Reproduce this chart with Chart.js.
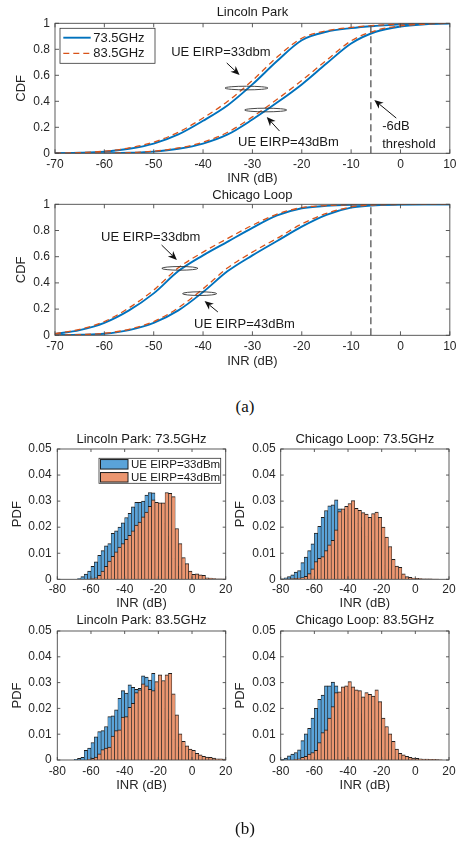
<!DOCTYPE html>
<html>
<head>
<meta charset="utf-8">
<script src="https://cdn.jsdelivr.net/npm/chart.js@4.4.1/dist/chart.umd.min.js"></script>
<style>
html,body{margin:0;padding:0;background:#fff;}
body{width:461px;height:846px;position:relative;overflow:hidden;}
canvas{position:absolute;display:block;}
.cap{position:absolute;font-family:'Liberation Serif','Times New Roman',serif;font-size:17px;color:#111;line-height:1;transform:translate(-50%,-50%);white-space:nowrap;}
</style>
</head>
<body>
<canvas id="cdf1" width="461" height="190" style="left:0;top:0"></canvas>
<canvas id="cdf2" width="461" height="190" style="left:0;top:182px"></canvas>
<div class="cap" style="left:245px;top:406px">(a)</div>
<canvas id="h1" width="240" height="186" style="left:0;top:428px"></canvas>
<canvas id="h2" width="231" height="186" style="left:230px;top:428px"></canvas>
<canvas id="h3" width="240" height="186" style="left:0;top:610px"></canvas>
<canvas id="h4" width="231" height="186" style="left:230px;top:610px"></canvas>
<div class="cap" style="left:245px;top:828px">(b)</div>
<script>
// ---------------- DATA ----------------
// CDF panels (a)
const cdfX = [-70,-65,-60,-55,-50,-45,-40,-35,-30,-25,-20,-15,-10,-5,0,5,10];
const cdfXTicks = [-70,-60,-50,-40,-30,-20,-10,0,10];
const cdfYTicks = [0,0.2,0.4,0.6,0.8,1];
const thresholdDb = -6;
// Lincoln Park
const lp735_33 = [0,0.004,0.013,0.035,0.075,0.145,0.25,0.37,0.53,0.71,0.87,0.935,0.963,0.98,0.992,0.998,1];
const lp835_33 = [0,0.005,0.016,0.041,0.086,0.162,0.272,0.40,0.56,0.74,0.885,0.942,0.968,0.984,0.994,0.998,1];
const lp735_43 = [0,0,0.001,0.004,0.013,0.035,0.075,0.145,0.26,0.39,0.53,0.69,0.845,0.935,0.975,0.992,1];
const lp835_43 = [0,0,0.001,0.005,0.016,0.041,0.086,0.162,0.28,0.415,0.56,0.715,0.865,0.945,0.98,0.994,1];
// Chicago Loop
const cl735_33 = [0.01,0.04,0.095,0.19,0.32,0.49,0.61,0.715,0.82,0.915,0.97,0.988,0.996,0.999,1,1,1];
const cl835_33 = [0.012,0.045,0.105,0.21,0.345,0.515,0.635,0.74,0.84,0.925,0.975,0.99,0.997,0.999,1,1,1];
const cl735_43 = [0.001,0.004,0.012,0.04,0.095,0.19,0.33,0.49,0.61,0.72,0.83,0.92,0.975,0.993,0.999,1,1];
const cl835_43 = [0.001,0.005,0.015,0.046,0.105,0.21,0.355,0.515,0.635,0.74,0.85,0.93,0.98,0.995,0.999,1,1];

// PDF panels (b): bin centres (dB)
const histBins = [-79,-77,-75,-73,-71,-69,-67,-65,-63,-61,-59,-57,-55,-53,-51,-49,-47,-45,-43,-41,
  -39,-37,-35,-33,-31,-29,-27,-25,-23,-21,-19,-17,-15,-13,-11,-9,-7,-5,-3,-1,1,3,5,7,9,11,13,15,17,19];
const pdfXTicks = [-80,-60,-40,-20,0,20];
const pdfYTicks = [0,0.01,0.02,0.03,0.04,0.05];
// Lincoln Park 73.5GHz
const lp735pdf_33 = [0,0,0,0,0,0,0.0003,0.0010,0.0020,0.0032,0.0050,0.0067,0.0092,0.0110,0.0128,0.0137,0.0176,0.0186,0.0200,0.0217,
  0.0237,0.0253,0.0278,0.0295,0.0295,0.0300,0.0323,0.0333,0.0332,0.0285,0.0255,0.0215,0.0165,0.0120,0.0080,0.0050,0.0030,0.0020,0.0012,0.0008,
  0.0005,0.0003,0.0002,0.0001,0.0001,0,0,0,0,0];
const lp735pdf_43 = [0,0,0,0,0,0,0,0,0,0.0001,0.0003,0.0006,0.0015,0.0032,0.0050,0.0070,0.0088,0.0105,0.0124,0.0137,
  0.0153,0.0169,0.0186,0.0208,0.0220,0.0240,0.0258,0.0280,0.0305,0.0295,0.0293,0.0293,0.0333,0.0330,0.0317,0.0195,0.0137,0.0083,0.0060,0.0032,
  0.0019,0.0021,0.0017,0.0015,0.0006,0.0005,0.0003,0.0002,0.0002,0.0001];
// Chicago Loop 73.5GHz
const cl735pdf_33 = [0.0002,0.0006,0.0010,0.0017,0.0028,0.0033,0.0064,0.0085,0.0110,0.0136,0.0177,0.0203,0.0238,0.0264,0.0282,0.0286,0.0305,0.0270,0.0255,0.0245,
  0.0235,0.0225,0.0215,0.0200,0.0185,0.0165,0.0145,0.0125,0.0100,0.0075,0.0055,0.0040,0.0028,0.0018,0.0010,0.0006,0.0003,0.0002,0.0001,0,
  0,0,0,0,0,0,0,0,0,0];
const cl735pdf_43 = [0,0.0001,0.0002,0.0003,0.0004,0.0005,0.0007,0.0011,0.0022,0.0040,0.0068,0.0080,0.0087,0.0110,0.0132,0.0150,0.0190,0.0260,0.0270,0.0280,
  0.0291,0.0302,0.0272,0.0265,0.0256,0.0250,0.0238,0.0252,0.0258,0.0238,0.0200,0.0162,0.0126,0.0077,0.0051,0.0046,0.0021,0.0010,0.0008,0.0005,
  0.0004,0.0003,0.0002,0.0002,0.0002,0.0001,0.0001,0,0,0];
// Lincoln Park 83.5GHz
const lp835pdf_33 = [0,0,0,0,0,0.0003,0.0006,0.0010,0.0037,0.0046,0.0068,0.0090,0.0110,0.0114,0.0130,0.0168,0.0171,0.0194,0.0239,0.0269,
  0.0259,0.0291,0.0282,0.0274,0.0278,0.0326,0.0321,0.0310,0.0336,0.0280,0.0245,0.0200,0.0160,0.0120,0.0080,0.0050,0.0030,0.0020,0.0012,0.0008,
  0.0005,0.0003,0.0002,0.0001,0,0,0,0,0,0];
const lp835pdf_43 = [0,0,0,0,0,0,0,0,0,0.0003,0.0006,0.0011,0.0024,0.0040,0.0046,0.0050,0.0093,0.0114,0.0117,0.0166,
  0.0168,0.0204,0.0220,0.0261,0.0272,0.0295,0.0287,0.0274,0.0269,0.0304,0.0330,0.0308,0.0330,0.0336,0.0256,0.0175,0.0101,0.0072,0.0055,0.0042,
  0.0037,0.0026,0.0020,0.0014,0.0011,0.0010,0.0007,0.0005,0.0005,0.0004];
// Chicago Loop 83.5GHz
const cl835pdf_33 = [0.0003,0.0007,0.0016,0.0023,0.0029,0.0039,0.0075,0.0101,0.0123,0.0162,0.0200,0.0235,0.0252,0.0287,0.0287,0.0302,0.0287,0.0262,0.0250,0.0240,
  0.0230,0.0220,0.0200,0.0180,0.0160,0.0140,0.0120,0.0100,0.0080,0.0060,0.0040,0.0030,0.0020,0.0013,0.0008,0.0005,0.0003,0.0002,0,0,
  0,0,0,0,0,0,0,0,0,0];
const cl835pdf_43 = [0,0,0,0,0.0003,0.0005,0.0010,0.0014,0.0023,0.0029,0.0037,0.0068,0.0106,0.0117,0.0162,0.0207,0.0261,0.0264,0.0284,0.0287,
  0.0304,0.0284,0.0272,0.0269,0.0245,0.0261,0.0255,0.0248,0.0272,0.0226,0.0162,0.0130,0.0101,0.0072,0.0042,0.0026,0.0020,0.0014,0.0010,0.0007,
  0.0006,0.0005,0.0004,0.0004,0.0003,0.0003,0.0002,0.0001,0,0];

// ---------------- STYLE / HELPERS ----------------
const FONT = "'Liberation Sans', Arial, Helvetica, sans-serif";
Chart.defaults.font.family = FONT;
Chart.defaults.font.size = 12;
Chart.defaults.color = '#262626';
const BLUE = '#0072BD', ORANGE = '#D95319';
const BLUE_FILL = '#5AA3D9', ORANGE_FILL = '#EB9670', EDGE = '#1e1e1e';
const pts = (xs, ys) => xs.map((x, i) => ({x: x, y: ys[i]}));
const fmt = v => String(Math.round(v * 10000) / 10000);

const DECOR = {};
const decor = {
  id: 'decor',
  afterDraw(chart) {
    const o = DECOR[chart.canvas.id]; if (!o) return;
    const ctx = chart.ctx, a = chart.chartArea, sx = chart.scales.x, sy = chart.scales.y;
    const X = v => sx.getPixelForValue(v), Y = v => sy.getPixelForValue(v);
    ctx.save();
    if (o.vline != null) {
      ctx.beginPath(); ctx.setLineDash([7, 4]); ctx.strokeStyle = '#555'; ctx.lineWidth = 1.3;
      ctx.moveTo(X(o.vline), a.bottom); ctx.lineTo(X(o.vline), a.top); ctx.stroke(); ctx.setLineDash([]);
    }
    // axes box
    ctx.strokeStyle = '#4a4a4a'; ctx.lineWidth = 0.9;
    ctx.strokeRect(a.left, a.top, a.right - a.left, a.bottom - a.top);
    // inward ticks
    const tl = o.tickLen;
    ctx.beginPath();
    sx.ticks.forEach(t => { const p = X(t.value); ctx.moveTo(p, a.bottom); ctx.lineTo(p, a.bottom - tl); ctx.moveTo(p, a.top); ctx.lineTo(p, a.top + tl); });
    sy.ticks.forEach(t => { const p = Y(t.value); ctx.moveTo(a.left, p); ctx.lineTo(a.left + tl, p); ctx.moveTo(a.right, p); ctx.lineTo(a.right - tl, p); });
    ctx.stroke();
    // title
    ctx.fillStyle = '#1a1a1a'; ctx.font = '13px ' + FONT; ctx.textAlign = 'center'; ctx.textBaseline = 'middle';
    ctx.fillText(o.title, (a.left + a.right) / 2, a.top - o.titleGap);
    // ellipses
    (o.ellipses || []).forEach(e => {
      const rx = Math.abs(X(e.x + e.w / 2) - X(e.x)), ry = Math.abs(Y(e.y + e.h / 2) - Y(e.y));
      ctx.beginPath(); ctx.strokeStyle = '#333'; ctx.lineWidth = 0.9;
      ctx.ellipse(X(e.x), Y(e.y), rx, ry, 0, 0, Math.PI * 2); ctx.stroke();
    });
    // arrows
    (o.arrows || []).forEach(r => {
      const x1 = X(r.from[0]), y1 = Y(r.from[1]), x2 = X(r.to[0]), y2 = Y(r.to[1]);
      const ang = Math.atan2(y2 - y1, x2 - x1), L = 9, W = 3.8, c = Math.cos(ang), s = Math.sin(ang);
      ctx.strokeStyle = '#111'; ctx.lineWidth = 1;
      ctx.beginPath(); ctx.moveTo(x1, y1); ctx.lineTo(x2 - L * 0.7 * c, y2 - L * 0.7 * s); ctx.stroke();
      ctx.fillStyle = '#111'; ctx.beginPath(); ctx.moveTo(x2, y2);
      ctx.lineTo(x2 - L * c + W * s, y2 - L * s - W * c);
      ctx.lineTo(x2 - L * 0.7 * c, y2 - L * 0.7 * s);
      ctx.lineTo(x2 - L * c - W * s, y2 - L * s + W * c);
      ctx.closePath(); ctx.fill();
    });
    // texts
    (o.texts || []).forEach(t => {
      ctx.fillStyle = '#1a1a1a'; ctx.font = '13px ' + FONT; ctx.textAlign = t.align || 'center'; ctx.textBaseline = 'middle';
      ctx.fillText(t.t, X(t.x), Y(t.y));
    });
    // legend
    if (o.legend) {
      const Lg = o.legend;
      const bx = Lg.fromRight != null ? a.right - Lg.fromRight - Lg.w : a.left + Lg.dx, by = a.top + Lg.dy;
      ctx.fillStyle = '#fff'; ctx.fillRect(bx, by, Lg.w, Lg.h);
      ctx.strokeStyle = '#333'; ctx.lineWidth = 0.8; ctx.strokeRect(bx, by, Lg.w, Lg.h);
      Lg.items.forEach((di, k) => {
        const ds = chart.data.datasets[di], ry = by + Lg.rows[k];
        if (Lg.kind === 'line') {
          ctx.strokeStyle = ds.borderColor; ctx.lineWidth = ds.borderWidth; ctx.setLineDash(ds.borderDash || []);
          ctx.beginPath(); ctx.moveTo(bx + Lg.s0, ry); ctx.lineTo(bx + Lg.s1, ry); ctx.stroke(); ctx.setLineDash([]);
        } else {
          ctx.fillStyle = ds.backgroundColor; ctx.fillRect(bx + Lg.s0, ry - Lg.ph / 2, Lg.s1 - Lg.s0, Lg.ph);
          ctx.strokeStyle = EDGE; ctx.lineWidth = 1; ctx.strokeRect(bx + Lg.s0, ry - Lg.ph / 2, Lg.s1 - Lg.s0, Lg.ph);
        }
        ctx.fillStyle = '#1a1a1a'; ctx.font = Lg.fs + 'px ' + FONT; ctx.textAlign = 'left'; ctx.textBaseline = 'middle';
        ctx.fillText(ds.label, bx + Lg.tx, ry + 0.5);
      });
    }
    ctx.restore();
  }
};

function build(id, g, type, datasets, sx, sy) {
  const lh = 13 * 1.2;
  return new Chart(document.getElementById(id), {
    type: type,
    data: { datasets: datasets },
    plugins: [decor],
    options: {
      responsive: false, animation: false, devicePixelRatio: 1,
      layout: { padding: { left: 0, top: g.top, right: g.w - g.right, bottom: 0 } },
      plugins: { legend: { display: false }, tooltip: { enabled: false } },
      scales: {
        x: {
          type: 'linear', min: sx.min, max: sx.max, offset: false,
          afterBuildTicks: s => { s.ticks = sx.ticks.map(v => ({ value: v })); },
          afterFit: s => { s.height = g.h - g.bottom; },
          grid: { display: false, drawTicks: false, offset: false }, border: { display: false },
          ticks: { padding: g.xPad, maxRotation: 0, autoSkip: false, font: { size: 12 }, callback: fmt },
          title: { display: true, text: sx.title, font: { size: 13 }, padding: { top: 0, bottom: g.h - g.xTitle - lh / 2 } }
        },
        y: {
          type: 'linear', min: sy.min, max: sy.max,
          afterBuildTicks: s => { s.ticks = sy.ticks.map(v => ({ value: v })); },
          afterFit: s => { s.width = g.left; },
          grid: { display: false, drawTicks: false }, border: { display: false },
          ticks: { padding: g.yPad, font: { size: 12 }, callback: fmt },
          title: { display: true, text: sy.title, font: { size: 13 }, padding: { top: g.yTitle - lh / 2, bottom: 0 } }
        }
      }
    }
  });
}

function cdfSets(b33, b43, o33, o43) {
  const line = (lab, data, col, w, dash) => ({ label: lab, data: pts(cdfX, data), borderColor: col, borderWidth: w, borderDash: dash,
    pointRadius: 0, fill: false, cubicInterpolationMode: 'monotone' });
  return [
    line('83.5GHz', o33, ORANGE, 1.3, [6, 4]),
    line('83.5GHz', o43, ORANGE, 1.3, [6, 4]),
    line('73.5GHz', b33, BLUE, 1.9, []),
    line('73.5GHz', b43, BLUE, 1.9, [])
  ];
}
function pdfSets(v33, v43) {
  const bar = (lab, data, fill) => ({ label: lab, data: pts(histBins, data), backgroundColor: fill, borderColor: EDGE,
    borderWidth: { top: 1, left: 0.6, right: 0.6, bottom: 0 }, grouped: false, barPercentage: 1, categoryPercentage: 1 });
  return [ bar('UE EIRP=43dBm', v43, ORANGE_FILL), bar('UE EIRP=33dBm', v33, BLUE_FILL) ];
}

const cdfXs = { min: -70, max: 10, ticks: cdfXTicks, title: 'INR (dB)' };
const cdfYs = { min: 0, max: 1, ticks: cdfYTicks, title: 'CDF' };
const pdfXs = { min: -80, max: 20, ticks: pdfXTicks, title: 'INR (dB)' };
const pdfYs = { min: 0, max: 0.05, ticks: pdfYTicks, title: 'PDF' };

// ---------------- PANELS ----------------
DECOR.cdf1 = {
  title: 'Lincoln Park', titleGap: 10.8, tickLen: 4, vline: thresholdDb,
  legend: { kind: 'line', items: [2, 0], dx: 5, dy: 5, w: 95, h: 35, rows: [9.4, 25], s0: 3.3, s1: 30.7, tx: 33.3, fs: 13 },
  ellipses: [{ x: -31.2, y: 0.502, w: 8.7, h: 0.028 }, { x: -27.3, y: 0.333, w: 8.5, h: 0.028 }],
  arrows: [{ from: [-35.2, 0.695], to: [-32.6, 0.602] }, { from: [-24.5, 0.171], to: [-27.1, 0.279] }, { from: [-0.85, 0.271], to: [-5.3, 0.41] }],
  texts: [{ x: -36.4, y: 0.779, t: 'UE EIRP=33dbm' }, { x: -22.7, y: 0.087, t: 'UE EIRP=43dBm' },
          { x: -3.7, y: 0.205, t: '-6dB', align: 'left' }, { x: -3.7, y: 0.072, t: 'threshold', align: 'left' }]
};
build('cdf1', { w: 461, h: 190, left: 55, top: 23.3, right: 450.7, bottom: 153.3, xTitle: 178, yTitle: 21.7, xPad: 4.5, yPad: 5 },
  'line', cdfSets(lp735_33, lp735_43, lp835_33, lp835_43), cdfXs, cdfYs);

DECOR.cdf2 = {
  title: 'Chicago Loop', titleGap: 9.3, tickLen: 4, vline: thresholdDb,
  ellipses: [{ x: -44.7, y: 0.511, w: 7.3, h: 0.028 }, { x: -40.7, y: 0.318, w: 6.9, h: 0.028 }],
  arrows: [{ from: [-48.4, 0.689], to: [-45.3, 0.575] }, { from: [-37.0, 0.178], to: [-39.7, 0.262] }],
  texts: [{ x: -50.6, y: 0.75, t: 'UE EIRP=33dbm' }, { x: -31.6, y: 0.086, t: 'UE EIRP=43dBm' }]
};
build('cdf2', { w: 461, h: 190, left: 55, top: 22.3, right: 450.7, bottom: 153.3, xTitle: 179.7, yTitle: 21.7, xPad: 4.5, yPad: 5 },
  'line', cdfSets(cl735_33, cl735_43, cl835_33, cl835_43), cdfXs, cdfYs);

DECOR.h1 = { title: 'Lincoln Park: 73.5GHz', titleGap: 10, tickLen: 3,
  legend: { kind: 'patch', items: [1, 0], fromRight: 5, dy: 9.3, w: 121.7, h: 25, rows: [6, 19], s0: 1.5, s1: 29, ph: 9.5, tx: 32, fs: 11.5 } };
build('h1', { w: 240, h: 186, left: 57.3, top: 21, right: 225.7, bottom: 151.3, xTitle: 175.3, yTitle: 17, xPad: 3.5, yPad: 5.6 },
  'bar', pdfSets(lp735pdf_33, lp735pdf_43), pdfXs, pdfYs);

DECOR.h2 = { title: 'Chicago Loop: 73.5GHz', titleGap: 10, tickLen: 3 };
build('h2', { w: 231, h: 186, left: 50.7, top: 21, right: 219, bottom: 151.3, xTitle: 175.3, yTitle: 10, xPad: 3.5, yPad: 5 },
  'bar', pdfSets(cl735pdf_33, cl735pdf_43), pdfXs, pdfYs);

DECOR.h3 = { title: 'Lincoln Park: 83.5GHz', titleGap: 10.3, tickLen: 3 };
build('h3', { w: 240, h: 186, left: 57.3, top: 21, right: 225.7, bottom: 150, xTitle: 175, yTitle: 17, xPad: 4.5, yPad: 5.6 },
  'bar', pdfSets(lp835pdf_33, lp835pdf_43), pdfXs, pdfYs);

DECOR.h4 = { title: 'Chicago Loop: 83.5GHz', titleGap: 10.3, tickLen: 3 };
build('h4', { w: 231, h: 186, left: 50.7, top: 21, right: 219, bottom: 150, xTitle: 175, yTitle: 10, xPad: 4.5, yPad: 5 },
  'bar', pdfSets(cl835pdf_33, cl835pdf_43), pdfXs, pdfYs);
</script>
</body>
</html>
